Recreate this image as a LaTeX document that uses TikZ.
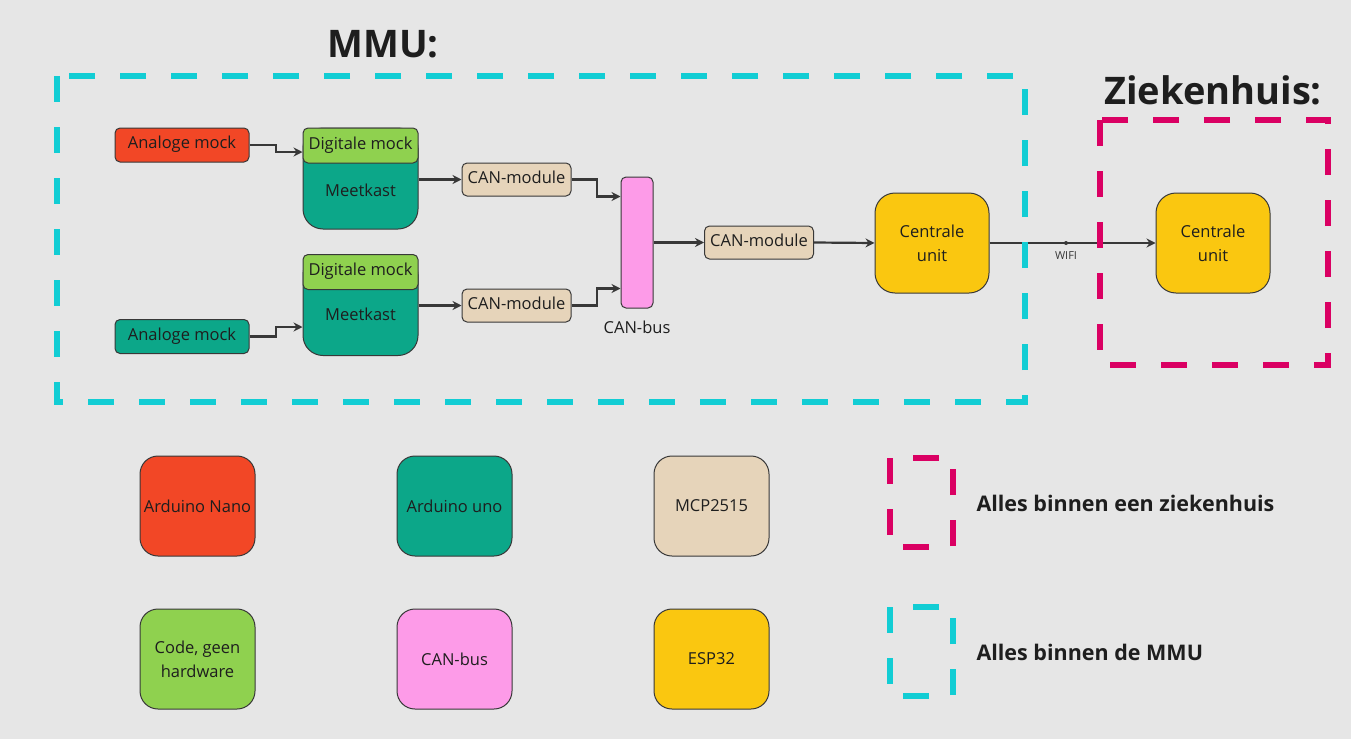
\documentclass[tikz,border=0pt]{standalone}
\usepackage{fontspec}
\setmainfont{Open Sans}
\usetikzlibrary{positioning}
\usetikzlibrary{arrows.meta}
\definecolor{achtergrond}{HTML}{E6E6E6}
\definecolor{rood}{HTML}{F24726}
\definecolor{teal}{HTML}{0CA789}
\definecolor{groen}{HTML}{8FD14F}
\definecolor{beige}{HTML}{E6D4BA}
\definecolor{roze}{HTML}{FD9BE8}
\definecolor{geel}{HTML}{FAC710}
\definecolor{cyaan}{HTML}{12CDD4}
\definecolor{magenta}{HTML}{DA0063}
\definecolor{lijn}{HTML}{383838}
\definecolor{tekst}{HTML}{1E1E1E}
\tikzset{blok/.style={draw=lijn, line width=1pt, rounded corners=5pt, inner sep=0pt,
text=tekst, align=center, font=\fontsize{16.5}{24}\selectfont},
regel/.style={text height=0.75em, text depth=0pt},
mock/.style={blok, regel, minimum width=134pt, minimum height=34pt},
canmod/.style={blok, regel, fill=beige, minimum width=109pt, minimum height=33pt},
meetkast/.style={blok, fill=teal, rounded corners=20pt, minimum width=115pt, minimum height=101pt},
digitaal/.style={blok, regel, fill=groen, minimum width=115pt, minimum height=35pt},
unit/.style={blok, fill=geel, rounded corners=20pt, minimum width=114pt, minimum height=100pt},
legenda/.style={blok, rounded corners=18pt, minimum width=115pt, minimum height=100pt},
zone/.style={line width=6pt, dash pattern=on 26pt off 25pt},
pijl/.style={draw=lijn, line width=2.2pt, -{Stealth[length=9pt,width=9pt]}}}

\begin{document}
\begin{tikzpicture}[x=1pt, y=-1pt]
\path[use as bounding box, fill=achtergrond] (0,0) rectangle (1351,739);

% titels
\node[font=\bfseries\fontsize{38}{44}\selectfont, text=tekst] (titelmmu) at (383,44) {MMU:};
\node[font=\bfseries\fontsize{38}{44}\selectfont, text=tekst] (titelzh) at (1213,90) {Ziekenhuis:};

% bovenste meetkast
\node[mock, fill=rood] (am1) at (182,145) {Analoge mock};
\node[meetkast] (mk1) at (360.5,178.5) {};
\node[digitaal] (dm1) at (360.5,145.5) {Digitale mock};
\node[text=tekst, font=\fontsize{16.5}{24}\selectfont] (mk1tekst) at (360.5,190) {Meetkast};
\node[canmod] (cm1) at (516.5,179.5) {CAN-module};

% onderste meetkast
\node[mock, fill=teal] (am2) at (182,336.5) {Analoge mock};
\node[meetkast] (mk2) at (360.5,305) {};
\node[digitaal] (dm2) at (360.5,272) {Digitale mock};
\node[text=tekst, font=\fontsize{16.5}{24}\selectfont] (mk2tekst) at (360.5,314) {Meetkast};
\node[canmod] (cm2) at (516.5,305.5) {CAN-module};

% bus en centrale
\node[blok, fill=roze, minimum width=32pt, minimum height=131pt] (bus) at (637,242.5) {};
\node[below=9pt of bus, text=tekst, font=\fontsize{16.5}{24}\selectfont] (buslabel) {CAN-bus};
\node[canmod] (cc) at (759,242.5) {CAN-module};
\node[unit] (cu1) at (932,243) {Centrale\\unit};
\node[unit] (cu2) at (1213,243) {Centrale\\unit};

% verbindingen
\draw[pijl] (am1.east) -- (276,145) |- ([yshift=26.5pt]mk1.west);
\draw[pijl] (am2.east) -- (276,336.5) |- ([yshift=-22pt]mk2.west);
\draw[pijl] (mk1.east |- cm1.west) -- (cm1.west);
\draw[pijl] (mk2.east |- cm2.west) -- (cm2.west);
\draw[pijl] (cm1.east) -- (597,179.5) |- ([yshift=46pt]bus.west);
\draw[pijl] (cm2.east) -- (597,305.5) |- ([yshift=-46pt]bus.west);
\draw[pijl] (bus.east) -- (cc.west);
\draw[pijl] (cc.east) -- (cu1.west);
\draw[pijl] (cu1.east) -- (cu2.west);
\coordinate (wifi) at (1066,243);
\fill[lijn] (wifi) circle (2pt);
\node[below=5pt of wifi, text=lijn, font=\fontsize{11}{13}\selectfont] (wifilabel) {WIFI};

% zones
\draw[zone, cyaan] (57,76) rectangle (1025,402);
\draw[zone, magenta] (1100,120) rectangle (1328,365);

% legenda
\node[legenda, fill=rood] (lnano) at (197.5,506) {Arduino Nano};
\node[legenda, fill=teal] (luno) at (454.5,506) {Arduino uno};
\node[legenda, fill=beige] (lmcp) at (711.5,506) {MCP2515};
\node[legenda, fill=groen] (lcode) at (197.5,659) {Code, geen\\hardware};
\node[legenda, fill=roze] (lbus) at (454.5,659) {CAN-bus};
\node[legenda, fill=geel] (lesp) at (711.5,659) {ESP32};
\draw[zone, magenta] (890,458) rectangle (953,547);
\draw[zone, cyaan] (890,607) rectangle (953,696);
\node[anchor=west, text=tekst, font=\bfseries\fontsize{21.5}{26}\selectfont] (lzh) at (973,503) {Alles binnen een ziekenhuis};
\node[anchor=west, text=tekst, font=\bfseries\fontsize{21.5}{26}\selectfont] (lmmu) at (973,652) {Alles binnen de MMU};
\end{tikzpicture}
\end{document}
